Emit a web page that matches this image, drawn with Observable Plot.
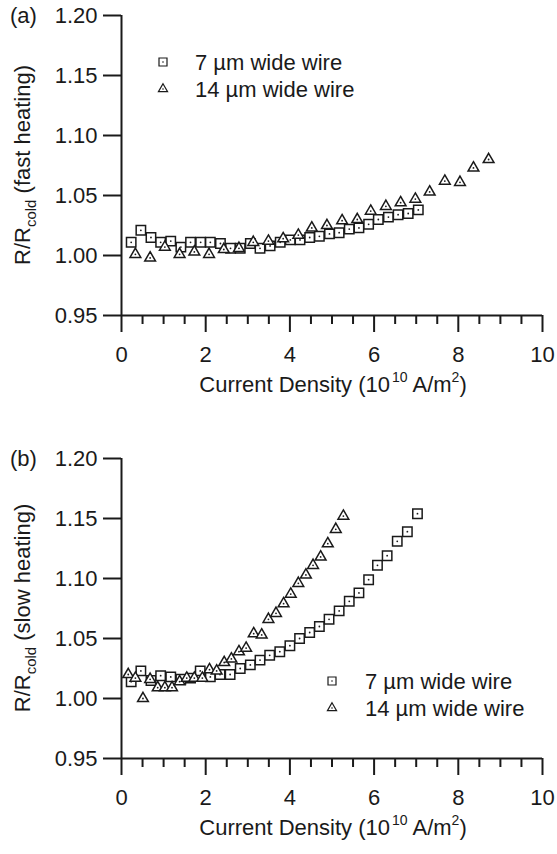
<!DOCTYPE html>
<html><head><meta charset="utf-8">
<script src="https://cdn.jsdelivr.net/npm/d3@7"></script>
<script src="https://cdn.jsdelivr.net/npm/@observablehq/plot@0.6"></script>
<style>
body{margin:0;background:#fff;}
#chart{width:557px;height:854px;}
svg{display:block;}
</style></head><body><div id="chart"></div>
<script>
// ---- data ----
const fastX7 = [0.23,0.46,0.70,0.93,1.17,1.41,1.64,1.88,2.11,2.35,2.59,2.82,3.06,3.29,3.53,3.77,4.01,4.24,4.47,4.70,4.94,5.17,5.41,5.64,5.87,6.10,6.34,6.57,6.81,7.05];
const fastY7 = [1.011,1.021,1.015,1.011,1.012,1.007,1.011,1.011,1.011,1.010,1.006,1.006,1.010,1.006,1.008,1.011,1.013,1.013,1.015,1.016,1.018,1.019,1.022,1.023,1.026,1.030,1.032,1.034,1.035,1.038];
const fastX14 = [0.33,0.68,1.03,1.38,1.73,2.08,2.43,2.79,3.13,3.49,3.84,4.20,4.52,4.88,5.24,5.60,5.92,6.28,6.63,6.98,7.32,7.68,8.04,8.36,8.72];
const fastY14 = [1.001,0.998,1.007,1.001,1.003,1.001,1.005,1.006,1.011,1.012,1.014,1.017,1.023,1.025,1.029,1.030,1.037,1.041,1.044,1.047,1.053,1.062,1.061,1.073,1.080];

const slowX7 = [0.23,0.46,0.70,0.93,1.17,1.41,1.64,1.87,2.11,2.34,2.58,2.82,3.06,3.29,3.52,3.76,4.00,4.23,4.47,4.70,4.93,5.17,5.41,5.64,5.87,6.08,6.31,6.55,6.79,7.03];
const slowY7 = [1.014,1.023,1.015,1.019,1.018,1.016,1.017,1.023,1.018,1.020,1.020,1.025,1.028,1.032,1.036,1.039,1.044,1.050,1.055,1.060,1.066,1.073,1.081,1.088,1.099,1.111,1.119,1.131,1.139,1.154];
const slowX14 = [0.16,0.33,0.51,0.68,0.86,1.03,1.20,1.38,1.55,1.73,1.92,2.09,2.26,2.44,2.61,2.79,2.96,3.14,3.33,3.49,3.67,3.85,4.02,4.20,4.38,4.55,4.73,4.90,5.09,5.27];
const slowY14 = [1.020,1.017,1.000,1.016,1.009,1.009,1.009,1.014,1.017,1.017,1.017,1.024,1.023,1.030,1.033,1.039,1.042,1.054,1.053,1.066,1.071,1.079,1.087,1.096,1.103,1.111,1.118,1.129,1.141,1.152];

const xTicks = [0,2,4,6,8,10];
const xMinorTicks = [0.5,1,1.5,2.5,3,3.5,4.5,5,5.5,6.5,7,7.5,8.5,9,9.5];
const yTicks = [0.95,1.00,1.05,1.10,1.15,1.20];
const seriesNames = ["7 \u00b5m wide wire", "14 \u00b5m wide wire"];

const FONT = "'Liberation Sans', Arial, Helvetica, sans-serif";
const INK = "#1a1a1a";
const FS = 22;

function panel(cfg) {
  const d7 = cfg.x7.map((x,i)=>({x, y:cfg.y7[i]}));
  const d14 = cfg.x14.map((x,i)=>({x, y:cfg.y14[i]}));
  const svg = Plot.plot({
    width:557, height:cfg.height,
    marginTop:15, marginLeft:121, marginRight:15, marginBottom:cfg.height-315,
    style:{fontFamily:FONT, fontSize:FS+"px", color:INK, background:"white", overflow:"visible"},
    x:{domain:[0,10], label:null},
    y:{domain:[0.95,1.20], label:null},
    marks:[
      Plot.axisY({ticks:yTicks, tickSize:18, tickPadding:6, tickFormat:d3.format(".2f"), label:null, strokeWidth:2, fontSize:FS}),
      Plot.axisX({ticks:xMinorTicks, tickSize:9, tickFormat:()=>"", label:null, strokeWidth:2}),
      Plot.axisX({ticks:xTicks, tickSize:17, tickPadding:14, tickFormat:d3.format("d"), label:null, strokeWidth:2, fontSize:FS}),
      Plot.ruleX([0], {stroke:INK, strokeWidth:2}),
      Plot.ruleY([0.95], {stroke:INK, strokeWidth:2}),
      Plot.dot(d7, {x:"x", y:"y", symbol:"square", r:5.3, fill:"white", stroke:INK, strokeWidth:1.5}),
      Plot.dot(d7, {x:"x", y:"y", r:0.9, fill:INK}),
      Plot.dot(d14, {x:"x", y:"y", symbol:"triangle", r:4.0, fill:"white", stroke:INK, strokeWidth:1.5}),
      Plot.dot(d14, {x:"x", y:"y", r:0.9, fill:INK})
    ]
  });
  const s = d3.select(svg);
  const g = s.append("g").attr("font-family", FONT).attr("fill", INK).attr("font-size", FS).attr("text-anchor","start");
  // panel letter
  g.append("text").attr("x", 10).attr("y", 23).text(cfg.letter);
  // y title
  const yt = g.append("text").attr("transform", "translate(30,165) rotate(-90)").attr("text-anchor","middle");
  yt.append("tspan").text("R/R");
  yt.append("tspan").attr("font-size", 15).attr("dy", 6).text("cold");
  yt.append("tspan").attr("dy", -6).text(" " + cfg.ytitle);
  // x title
  const xt = g.append("text").attr("x", 333).attr("y", 392).attr("text-anchor","middle");
  xt.append("tspan").text("Current Density (10");
  xt.append("tspan").attr("font-size", 14).attr("dy", -10).attr("dx", 2).text("10");
  xt.append("tspan").attr("dy", 10).text(" A/m");
  xt.append("tspan").attr("font-size", 14).attr("dy", -10).text("2");
  xt.append("tspan").attr("dy", 10).text(")");
  // legend
  const L = cfg.legend;
  const lg = g.append("g");
  const sq = lg.append("g").attr("transform", `translate(${L.x},${L.y1})`);
  sq.append("path").attr("d", d3.symbol(d3.symbolSquare, 64)()).attr("fill","white").attr("stroke",INK).attr("stroke-width",1.2);
  sq.append("circle").attr("r",0.8).attr("fill",INK);
  const tr = lg.append("g").attr("transform", `translate(${L.x},${L.y2})`);
  tr.append("path").attr("d", d3.symbol(d3.symbolTriangle, 36)()).attr("fill","white").attr("stroke",INK).attr("stroke-width",1.2);
  tr.append("circle").attr("r",0.8).attr("fill",INK);
  lg.append("text").attr("x", L.tx).attr("y", L.y1).attr("dy","0.35em").text(seriesNames[0]);
  lg.append("text").attr("x", L.tx).attr("y", L.y2).attr("dy","0.35em").text(seriesNames[1]);
  return svg;
}

const root = document.getElementById("chart");
root.appendChild(panel({x7:fastX7, y7:fastY7, x14:fastX14, y14:fastY14, height:443, letter:"(a)",
  ytitle:"(fast heating)", legend:{x:163, y1:62, y2:89, tx:195}}));
root.appendChild(panel({x7:slowX7, y7:slowY7, x14:slowX14, y14:slowY14, height:411, letter:"(b)",
  ytitle:"(slow heating)", legend:{x:332, y1:238, y2:265, tx:365}}));
</script>
</body></html>
